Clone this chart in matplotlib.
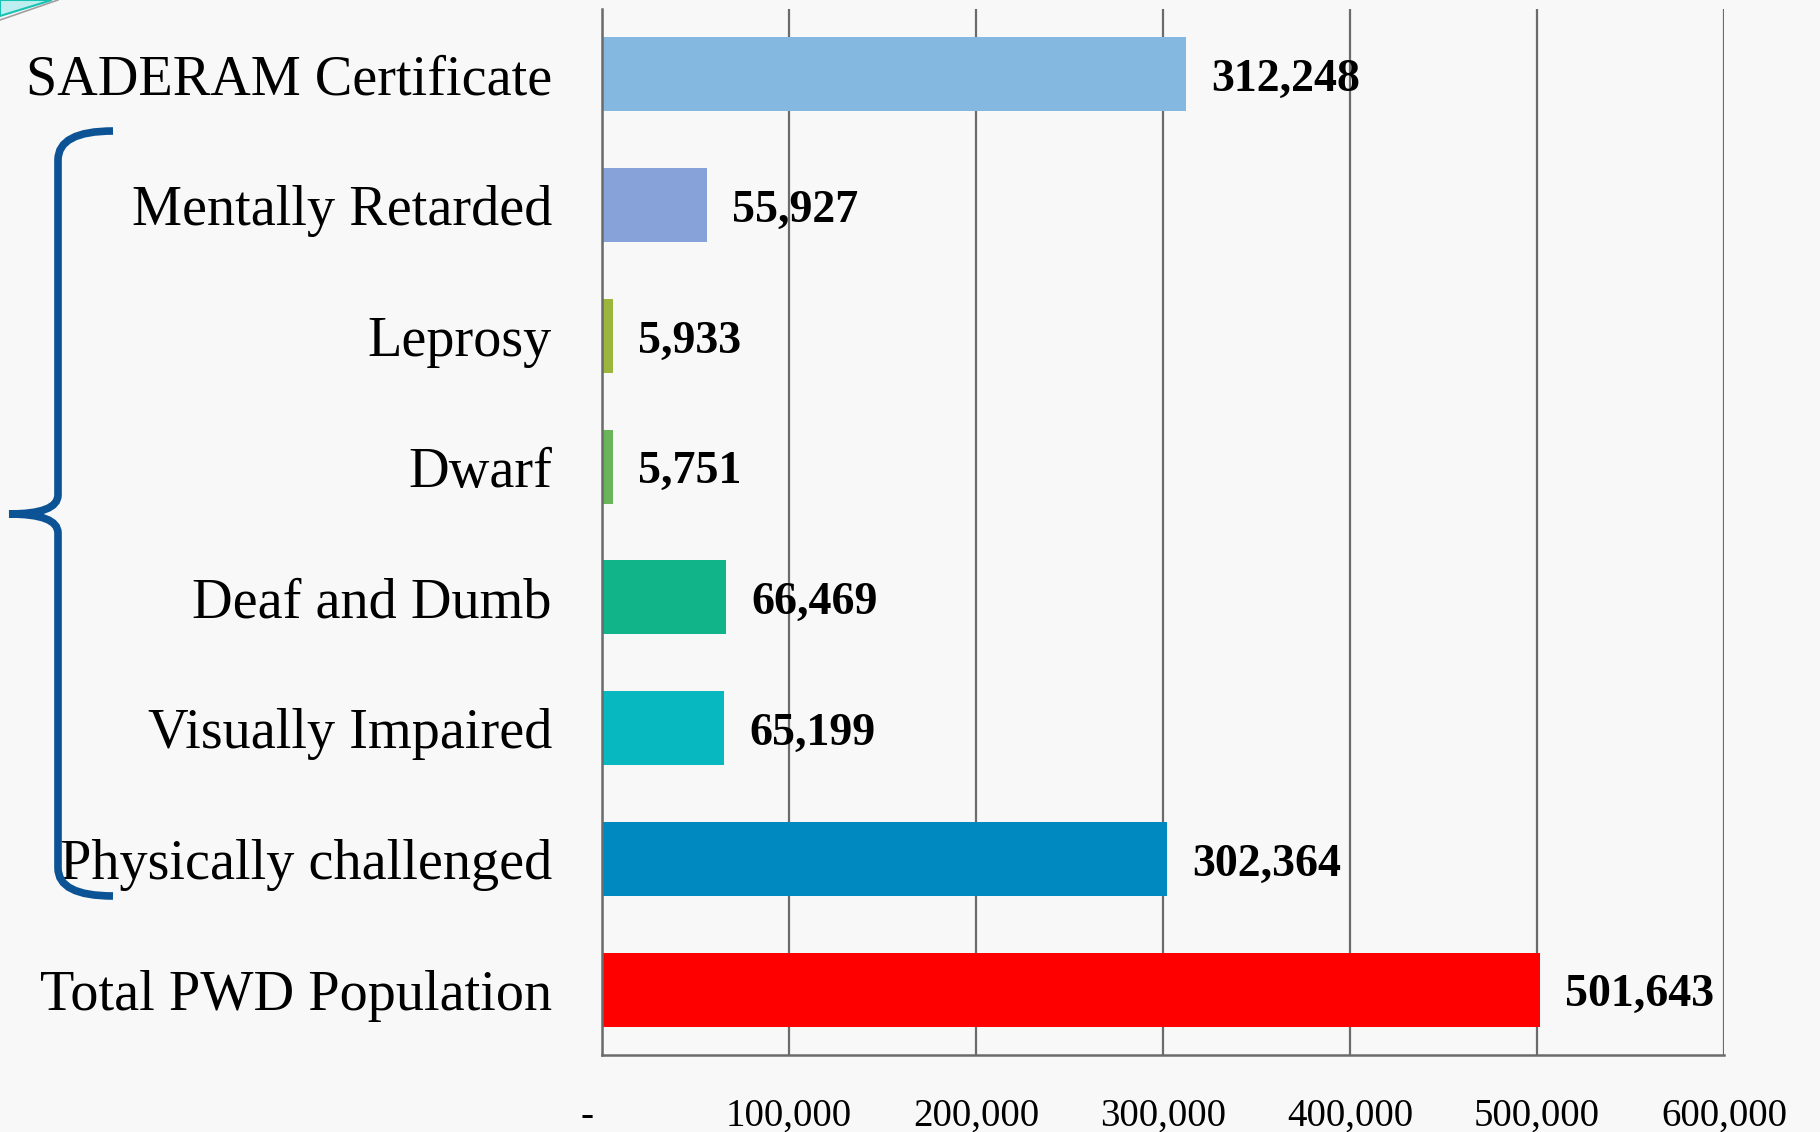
import matplotlib
matplotlib.use("Agg")
import matplotlib.pyplot as plt
from matplotlib.path import Path
from matplotlib.patches import PathPatch, Polygon
from matplotlib.lines import Line2D
from matplotlib.ticker import FuncFormatter

# Data (top to bottom as shown)
categories = ["SADERAM Certificate", "Mentally Retarded", "Leprosy", "Dwarf",
              "Deaf and Dumb", "Visually Impaired", "Physically challenged",
              "Total PWD Population"]
values = [312248, 55927, 5933, 5751, 66469, 65199, 302364, 501643]
colors = ["#85b8e0", "#86a2d8", "#9bb53d", "#6ab45a",
          "#10b488", "#08b8c0", "#0089c1", "#ff0000"]
xticks = [0, 100000, 200000, 300000, 400000, 500000, 600000]

W, H = 1820, 1132
fig = plt.figure(figsize=(W / 100, H / 100), dpi=100)
fig.patch.set_facecolor("#f8f8f8")

ax = fig.add_axes([602 / W, 1 - 1055 / H, (1724 - 602) / W, (1055 - 9) / H])
ax.set_facecolor("#f8f8f8")

ypos = list(range(len(categories)))
ax.barh(ypos, values, height=0.565, color=colors, zorder=3)
ax.set_ylim(len(categories) - 0.5, -0.5)
ax.set_xlim(0, 600000)
ax.set_xticks(xticks)
ax.xaxis.set_major_formatter(FuncFormatter(lambda v, p: "-   " if v == 0 else f"{int(v):,}"))
ax.grid(axis="x", color="#6b6b6b", linewidth=1.6, zorder=1)
ax.set_yticks(ypos)
ax.set_yticklabels(categories, fontfamily="Liberation Serif", fontsize=40.5, color="black")
ax.tick_params(axis="y", length=0, pad=36)
ax.tick_params(axis="x", length=0, pad=31, labelsize=28)
for lbl in ax.get_xticklabels():
    lbl.set_fontfamily("Liberation Serif")
for s in ["top", "right"]:
    ax.spines[s].set_visible(False)
for s in ["left", "bottom"]:
    ax.spines[s].set_color("#6b6b6b")
    ax.spines[s].set_linewidth(1.8)
    ax.spines[s].set_zorder(4)

for y, v in zip(ypos, values):
    ax.annotate(f"{v:,}", xy=(v, y), xytext=(18, -4), textcoords="offset points",
                ha="left", va="center", fontfamily="Liberation Serif",
                fontweight="bold", fontsize=33, color="black", zorder=5)

# Brace on the left (figure pixel coordinates)
def P(x, y):
    return (x / W, 1 - y / H)

verts = [P(113, 131), P(58, 131), P(58, 160),
         P(58, 495),
         P(58, 514), P(9, 514),
         P(58, 514), P(58, 533),
         P(58, 868),
         P(58, 896), P(113, 896)]
codes = [Path.MOVETO, Path.CURVE3, Path.CURVE3,
         Path.LINETO,
         Path.CURVE3, Path.CURVE3,
         Path.CURVE3, Path.CURVE3,
         Path.LINETO,
         Path.CURVE3, Path.CURVE3]
brace = PathPatch(Path(verts, codes), facecolor="none", edgecolor="#0b5394",
                  linewidth=5.5, transform=fig.transFigure, capstyle="butt")
fig.add_artist(brace)

# Small decorative swoosh in the top-left corner
fig.add_artist(Polygon([P(0, 0), P(52, 0), P(0, 16)], closed=True,
                       facecolor="#bfeef0", edgecolor="#17c3b2", linewidth=1.5,
                       transform=fig.transFigure))
fig.add_artist(Line2D([0, 58 / W], [1 - 20 / H, 1.0], color="#a0a0a0",
                      linewidth=1.2, transform=fig.transFigure))

fig.savefig("out.png", dpi=100, facecolor=fig.get_facecolor())
